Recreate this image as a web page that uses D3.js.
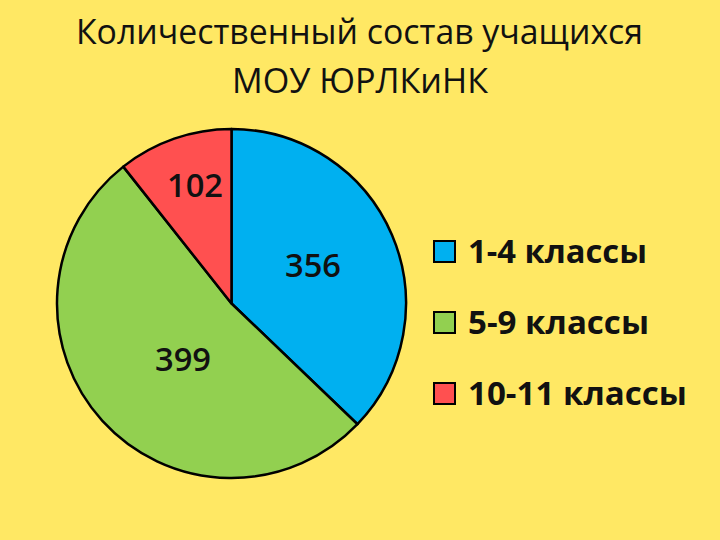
<!DOCTYPE html>
<html><head><meta charset="utf-8">
<script src="https://cdn.jsdelivr.net/npm/d3@7/dist/d3.min.js"></script>
<style>html,body{margin:0;padding:0;background:#FFE864;}</style>
</head><body>
<svg id="chart" width="720" height="540"></svg>
<script>
// Data
const categories = ["1-4 классы", "5-9 классы", "10-11 классы"];
// Slice sizes as drawn in the picture (green slice is visibly larger than its label)
const sliceValues = [356, 500, 102];
// Data labels as printed on the slices
const dataLabels = ["356", "399", "102"];
const colors = ["#00B0F0", "#92D050", "#FF5050"];
const titleLines = ["Количественный состав учащихся", "МОУ ЮРЛКиНК"];

const svg = d3.select("#chart");
svg.append("rect").attr("width", 720).attr("height", 540).attr("fill", "#FFE864");

// Title
const titleFont = "'Open Sans', 'Noto Sans', sans-serif";
const tl = [{x: 76, y: 44, w: 567}, {x: 232, y: 93, w: 256}];
titleLines.forEach((t, i) => {
  svg.append("text").attr("x", tl[i].x).attr("y", tl[i].y)
    .attr("font-family", titleFont).attr("font-size", 35).attr("fill", "#111")
    .attr("textLength", tl[i].w).attr("lengthAdjust", "spacingAndGlyphs")
    .text(t);
});

// Pie
const cx = 231.5, cy = 303.5, r = 174.5;
const pie = d3.pie().sort(null).value(d => d)(sliceValues);
const arc = d3.arc().innerRadius(0).outerRadius(r);
const g = svg.append("g").attr("transform", `translate(${cx},${cy})`);
g.selectAll("path").data(pie).join("path")
  .attr("d", arc).attr("fill", (d, i) => colors[i])
  .attr("stroke", "#000").attr("stroke-width", 2.5).attr("stroke-linejoin", "round");

// Data labels
const labelPos = [{x: 313, y: 277}, {x: 183, y: 371}, {x: 195, y: 197}];
g.selectAll("text.lbl").data(dataLabels).join("text").attr("class", "lbl")
  .attr("x", (d, i) => labelPos[i].x - cx).attr("y", (d, i) => labelPos[i].y - cy)
  .attr("text-anchor", "middle").attr("font-family", titleFont)
  .attr("font-size", 32).attr("font-weight", 600).attr("fill", "#111")
  .attr("textLength", 56).attr("lengthAdjust", "spacingAndGlyphs")
  .text(d => d);

// Legend
const legendY = d3.scalePoint().domain(categories).range([263, 405]);
const legendW = [179, 181, 219];
const lg = svg.append("g");
categories.forEach((c, i) => {
  const y = legendY(c);
  lg.append("rect").attr("x", 434).attr("y", y - 22).attr("width", 21).attr("height", 21)
    .attr("fill", colors[i]).attr("stroke", "#000").attr("stroke-width", 2);
  lg.append("text").attr("x", 468).attr("y", y)
    .attr("font-family", titleFont).attr("font-size", 32).attr("font-weight", 700)
    .attr("fill", "#111").attr("textLength", legendW[i]).attr("lengthAdjust", "spacingAndGlyphs")
    .text(c);
});
</script>
</body></html>
